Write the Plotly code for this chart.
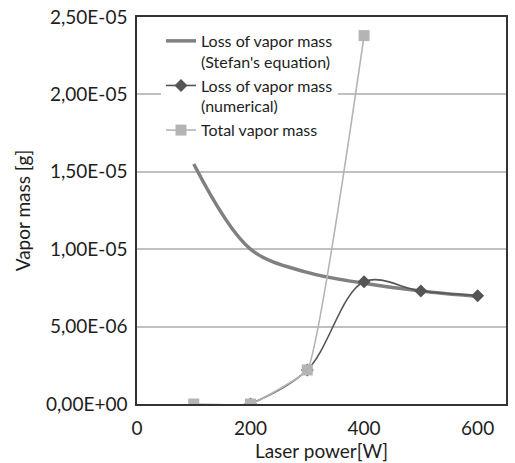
import plotly.graph_objects as go

# Laser power [W] and vapor masses [g]
power_stefan = [100, 200, 300, 400, 500, 600]
loss_stefan = [1.55e-5, 1.00e-5, 8.5e-6, 7.8e-6, 7.3e-6, 6.95e-6]

power_numerical = [200, 300, 400, 500, 600]
loss_numerical = [0.0, 2.2e-6, 7.9e-6, 7.3e-6, 7.0e-6]

power_total = [100, 200, 300, 400]
total_vapor = [0.0, 0.0, 2.2e-6, 2.38e-5]

y_ticks = [0, 5e-6, 1e-5, 1.5e-5, 2e-5, 2.5e-5]
y_tick_labels = ["0,00E+00", "5,00E-06", "1,00E-05", "1,50E-05", "2,00E-05", "2,50E-05"]
x_ticks = [0, 200, 400, 600]

font = "Lato"
text_color = "#1e1e1e"

fig = go.Figure()
fig.add_trace(go.Scatter(
    x=power_stefan, y=loss_stefan, mode="lines",
    line=dict(color="#808080", width=3.5, shape="spline", smoothing=1.0),
    name="Loss of vapor mass<br>(Stefan's equation)",
))
fig.add_trace(go.Scatter(
    x=power_numerical, y=loss_numerical, mode="lines+markers",
    line=dict(color="#555555", width=1.6, shape="spline", smoothing=1.0),
    marker=dict(symbol="diamond", size=10, color="#555555"),
    name="Loss of vapor mass<br>(numerical)",
))
fig.add_trace(go.Scatter(
    x=power_total, y=total_vapor, mode="lines+markers",
    line=dict(color="#b4b4b4", width=1.6, shape="spline", smoothing=0.3),
    marker=dict(symbol="square", size=11, color="#b4b4b4"),
    name="Total vapor mass",
))

fig.update_layout(
    width=515, height=463,
    margin=dict(l=137, r=9, t=17, b=59),
    paper_bgcolor="white", plot_bgcolor="white",
    font=dict(family=font, color=text_color),
    showlegend=True,
    legend=dict(
        x=0.065, y=0.982, xanchor="left", yanchor="top",
        bgcolor="white", borderwidth=0,
        font=dict(family=font, size=16, color=text_color),
        valign="top", tracegroupgap=0,
        itemwidth=30,
    ),
    xaxis=dict(
        range=[0, 650], tickvals=x_ticks, ticks="",
        showgrid=False, zeroline=False, automargin=False,
        showline=True, linecolor="#333333", linewidth=1.5, mirror=True,
        tickfont=dict(family=font, size=19, color=text_color),
        ticklabelstandoff=6,
        title=dict(text="Laser power[W]", font=dict(family=font, size=19, color=text_color), standoff=4),
    ),
    yaxis=dict(
        range=[0, 2.5e-5], tickvals=y_ticks, ticktext=y_tick_labels, ticks="",
        showgrid=True, gridcolor="#c0c0c0", gridwidth=1.5, zeroline=False, automargin=False,
        showline=True, linecolor="#333333", linewidth=1.5, mirror=True,
        tickfont=dict(family=font, size=19, color=text_color),
        ticklabelstandoff=4,
        title=dict(text="Vapor mass [g]", font=dict(family=font, size=19, color=text_color), standoff=10),
    ),
)

fig.write_html("out.html")
